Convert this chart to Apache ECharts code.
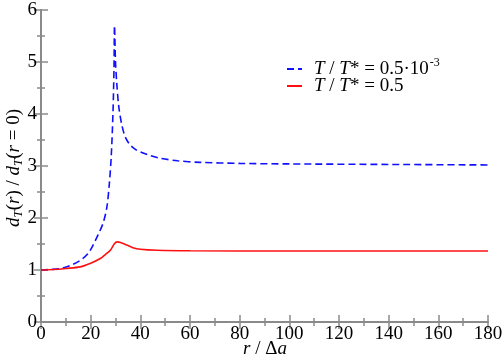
<!DOCTYPE html>
<html>
<head>
<meta charset="utf-8">
<script src="https://cdn.jsdelivr.net/npm/echarts@6/dist/echarts.min.js"></script>
<style>
  html, body { margin: 0; padding: 0; background: #fff; }
  #chart { width: 502px; height: 363px; }
</style>
</head>
<body>
<div id="chart"></div>
<script>
// r / Δa and normalized d_T for the two temperatures
var rLow = [0, 4, 8, 12, 16, 19, 21.2, 23, 25, 26.5, 27.5, 28.3, 29, 29.4, 29.6, 30, 30.5, 31.3, 32.5, 34, 36, 38, 40, 44, 48, 55, 64, 80, 100, 140, 180];
var dLow = [1.0, 1.01, 1.03, 1.09, 1.19, 1.32, 1.5, 1.68, 1.9, 2.2, 2.65, 3.2, 4.05, 4.9, 5.7, 5.0, 4.6, 4.15, 3.8, 3.55, 3.4, 3.32, 3.27, 3.2, 3.15, 3.1, 3.07, 3.05, 3.04, 3.03, 3.02];
var rHigh = [0, 5, 10, 15.8, 20, 23.9, 26, 27.9, 29.5, 30.6, 32, 34.6, 37, 40, 46.7, 60, 100, 180];
var dHigh = [1.0, 1.01, 1.03, 1.06, 1.13, 1.22, 1.3, 1.38, 1.5, 1.54, 1.53, 1.48, 1.43, 1.40, 1.38, 1.37, 1.365, 1.365];
var seriesNames = ['low', 'high'];

function pairs(xs, ys) {
    return xs.map(function (x, i) { return [x, ys[i]] })
}

var chart = echarts.init(document.getElementById('chart'));
var serif = '"Liberation Serif", "Times New Roman", serif';
var axisGrey = '#8a8a8a';

var baseX = {
    type: 'value', min: 0, max: 180, interval: 20,
    axisLine: { show: true, lineStyle: { color: axisGrey, width: 2 } },
    axisTick: { show: true, inside: true, length: 7, lineStyle: { color: axisGrey, width: 1.5 } },
    minorTick: { show: true, splitNumber: 2, length: 4, lineStyle: { color: axisGrey, width: 1.5 } },
    splitLine: { show: false }
};
var baseY = {
    type: 'value', min: 0, max: 6, interval: 1,
    axisLine: { show: true, lineStyle: { color: axisGrey, width: 2 } },
    axisTick: { show: true, inside: true, length: 7, lineStyle: { color: axisGrey, width: 1.5 } },
    minorTick: { show: true, splitNumber: 2, length: 4, lineStyle: { color: axisGrey, width: 1.5 } },
    splitLine: { show: false }
};

// axis titles (italic parts via rich text)
var richTitle = {
    i: { fontFamily: serif, fontSize: 19, fontStyle: 'italic', fill: '#000' },
    n: { fontFamily: serif, fontSize: 19, fill: '#000' },
    sub: { fontFamily: serif, fontSize: 13, fontStyle: 'italic', fill: '#000', padding: [9, 0, 0, 0] }
};

chart.setOption({
    animation: false,
    textStyle: { fontFamily: serif },
    grid: { left: 41, right: 14, top: 10, bottom: 41, containLabel: false, outerBoundsMode: 'none' },
    graphic: [
        {
            type: 'text', x: 265, y: 349,
            style: {
                text: '{i|r}{n| / Δ}{i|a}', rich: richTitle,
                align: 'center', verticalAlign: 'middle'
            }
        },
        {
            type: 'text', x: 14, y: 168, rotation: Math.PI / 2,
            style: {
                text: '{i|d}{sub|T}{n|(}{i|r}{n|) / }{i|d}{sub|T}{n|(}{i|r}{n| = 0)}', rich: richTitle,
                align: 'center', verticalAlign: 'middle'
            }
        }
    ],
    legend: {
        left: 286, top: 57, padding: 0,
        orient: 'vertical',
        itemWidth: 15, itemHeight: 10, itemGap: -2,
        itemStyle: { opacity: 0 },
        data: seriesNames,
        formatter: function (name) {
            if (name === 'low') return '{i|T} / {i|T}* = 0.5·10{sup|-3}';
            return '{i|T} / {i|T}* = 0.5';
        },
        textStyle: {
            fontFamily: serif, fontSize: 19, color: '#000', padding: [0, 0, 0, 7],
            rich: {
                i: { fontFamily: serif, fontSize: 19, fontStyle: 'italic', color: '#000' },
                sup: { fontFamily: serif, fontSize: 12, color: '#000', padding: [0, 0, 12, 1] }
            }
        }
    },
    xAxis: [
        Object.assign({}, baseX, {
            position: 'bottom',
            axisLabel: { color: '#000', fontFamily: serif, fontSize: 19, margin: 3 }
        }),
        Object.assign({}, baseX, { position: 'top', axisLabel: { show: false } })
    ],
    yAxis: [
        Object.assign({}, baseY, {
            position: 'left',
            axisLabel: { color: '#000', fontFamily: serif, fontSize: 19, margin: 4 }
        }),
        Object.assign({}, baseY, { position: 'right', axisLabel: { show: false } })
    ],
    series: [
        {
            name: 'low', type: 'line', showSymbol: false, symbol: 'none', smooth: 0.3,
            lineStyle: { color: '#1010ff', width: 1.6, type: [7, 4] },
            itemStyle: { color: '#1010ff' },
            data: pairs(rLow, dLow)
        },
        {
            name: 'high', type: 'line', showSymbol: false, symbol: 'none', smooth: 0.3,
            lineStyle: { color: '#ff1010', width: 1.6 },
            itemStyle: { color: '#ff1010' },
            data: pairs(rHigh, dHigh)
        }
    ]
});
</script>
</body>
</html>
